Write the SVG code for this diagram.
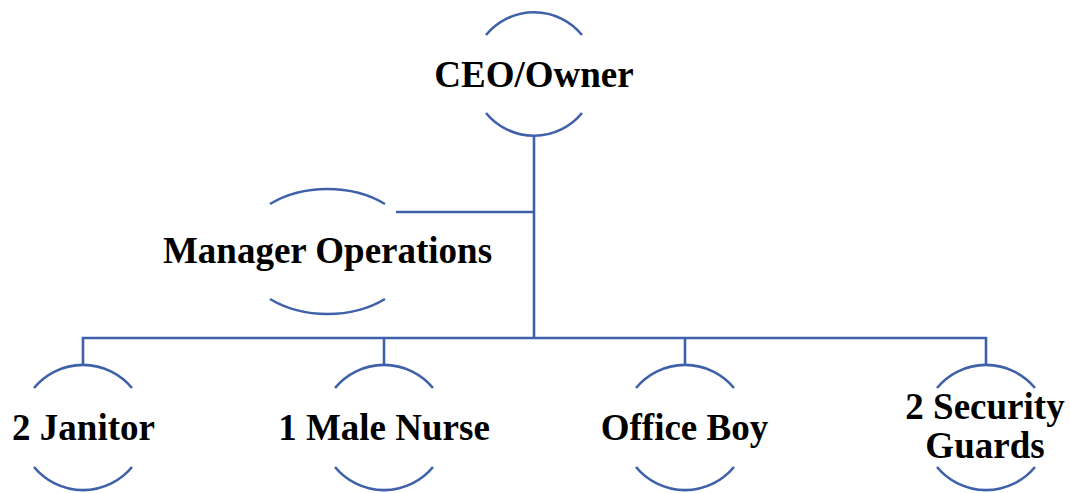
<svg xmlns="http://www.w3.org/2000/svg" width="1070" height="493" viewBox="0 0 1070 493">
  <style>
    .arc { fill: none; stroke: #3E61AA; stroke-width: 2.6; }
    .link { fill: none; stroke: #3E61AA; stroke-width: 2.6; }
    .label { font-family: "Liberation Serif", "Times New Roman", serif; font-weight: bold; font-size: 37px; fill: #000; text-anchor: middle; }
  </style>
  <rect width="1070" height="493" fill="#fff"/>

  <!-- connectors -->
  <g id="connectors">
    <path class="link" d="M534 136 V338"/>
    <path class="link" d="M396 212 H534"/>
    <path class="link" d="M83 364 V338 H986 V364"/>
    <path class="link" d="M384 338 V364"/>
    <path class="link" d="M685 338 V364"/>
  </g>

  <!-- top node -->
  <g id="node-ceo">
    <path class="arc" d="M486 35 A62 62 0 0 1 582 35"/>
    <path class="arc" d="M486 113 A62 62 0 0 0 582 113"/>
    <text class="label" x="534" y="87">CEO/Owner</text>
  </g>

  <!-- assistant node -->
  <g id="node-manager">
    <path class="arc" d="M270 204 A88.5 62.5 0 0 1 385 204"/>
    <path class="arc" d="M270 299 A88.5 62.5 0 0 0 385 299"/>
    <text class="label" x="327.5" y="263">Manager Operations</text>
  </g>

  <!-- staff nodes -->
  <g id="node-janitor">
    <path class="arc" d="M34 388 A63.5 63.5 0 0 1 132 388"/>
    <path class="arc" d="M34 467 A63.5 63.5 0 0 0 132 467"/>
    <text class="label" x="83.5" y="440">2 Janitor</text>
  </g>

  <g id="node-nurse">
    <path class="arc" d="M335 388 A63.5 63.5 0 0 1 433 388"/>
    <path class="arc" d="M335 467 A63.5 63.5 0 0 0 433 467"/>
    <text class="label" x="384" y="440">1 Male Nurse</text>
  </g>

  <g id="node-office-boy">
    <path class="arc" d="M636 388 A63.5 63.5 0 0 1 734 388"/>
    <path class="arc" d="M636 467 A63.5 63.5 0 0 0 734 467"/>
    <text class="label" x="684.5" y="440">Office Boy</text>
  </g>

  <g id="node-security">
    <path class="arc" d="M937 388 A63.5 63.5 0 0 1 1035 388"/>
    <path class="arc" d="M937 467 A63.5 63.5 0 0 0 1035 467"/>
    <text class="label" x="985" y="419">2 Security</text>
    <text class="label" x="985" y="458">Guards</text>
  </g>
</svg>
